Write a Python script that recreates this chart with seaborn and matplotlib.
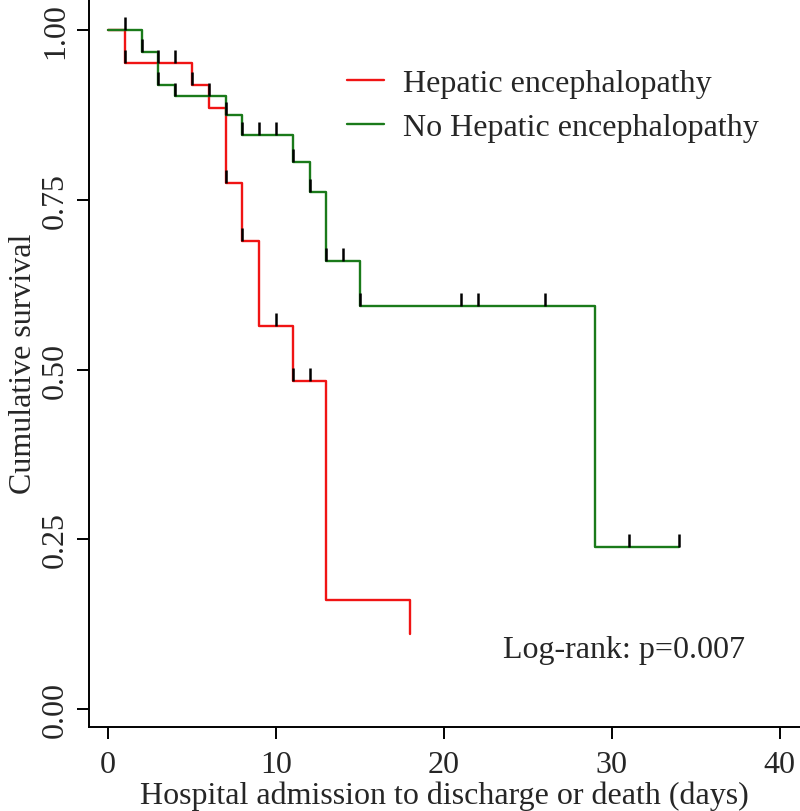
import matplotlib
matplotlib.use("Agg")
import matplotlib.pyplot as plt
from matplotlib.path import Path
import numpy as np
import pandas as pd
import seaborn as sns

# --- data (Kaplan-Meier steps) ---
he_times = [0, 1, 5, 6, 7, 8, 9, 11, 13, 18]
he_surv = [1.0, 0.952, 0.919, 0.885, 0.775, 0.690, 0.564, 0.483, 0.161, 0.110]
he_censor = [1, 3, 4, 5, 7, 8, 10, 11, 12]

no_times = [0, 2, 3, 4, 7, 8, 11, 12, 13, 15, 29]
no_surv = [1.0, 0.968, 0.919, 0.903, 0.875, 0.846, 0.805, 0.761, 0.660, 0.593, 0.238]
no_censor = [1, 2, 3, 4, 6, 7, 8, 9, 10, 11, 12, 13, 14, 15, 21, 22, 26, 31, 34]

groups = ["Hepatic encephalopathy", "No Hepatic encephalopathy"]
colors = ["#f01414", "#1a7a1a"]


def step_value(times, surv, t):
    i = np.searchsorted(times, t, side="right") - 1
    return surv[i]


curve_rows = []
cens_rows = []
for name, times, surv, cens in [(groups[0], he_times, he_surv, he_censor),
                                (groups[1], no_times, no_surv, no_censor)]:
    for t, s in zip(times, surv):
        curve_rows.append((name, t, s))
    # follow-up continues flat until the last censored time
    if max(cens) > max(times):
        curve_rows.append((name, max(cens), surv[-1]))
    for t in cens:
        cens_rows.append((name, t, step_value(times, surv, t)))

curves = pd.DataFrame(curve_rows, columns=["group", "time", "surv"])
censored = pd.DataFrame(cens_rows, columns=["group", "time", "surv"])

# --- style ---
sns.set_style("ticks")
plt.rcParams["font.family"] = ["Liberation Serif", "DejaVu Serif"]
plt.rcParams["font.size"] = 23

fig = plt.figure(figsize=(8.0, 8.12), dpi=100)
ax = fig.add_axes([89 / 800, 1 - 728 / 812, 1 - 89 / 800, 728 / 812])

sns.lineplot(data=curves, x="time", y="surv", hue="group", hue_order=groups,
             palette=colors, drawstyle="steps-post", estimator=None, sort=False,
             linewidth=1.7, ax=ax)

tick_marker = Path([(0, 0), (0, 1)])
sns.scatterplot(data=censored, x="time", y="surv", marker=tick_marker, s=330,
                color="black", edgecolor="black", linewidth=1.8, legend=False,
                zorder=5, ax=ax)

ax.set_xlim(-1.13, 41.2)
ax.set_ylim(-0.0265, 1.0457)
ax.set_xticks([0, 10, 20, 30, 40])
ax.set_yticks([0, 0.25, 0.5, 0.75, 1.0])
ax.set_yticklabels(["0.00", "0.25", "0.50", "0.75", "1.00"], rotation=90, va="center")
ax.tick_params(axis="both", length=8.5, width=1.4, labelsize=23, color="black")
ax.tick_params(axis="y", pad=5)
ax.tick_params(axis="x", pad=8)
for side in ["left", "bottom"]:
    ax.spines[side].set_linewidth(1.4)
    ax.spines[side].set_color("black")
sns.despine(ax=ax)

ax.set_xlabel("Hospital admission to discharge or death (days)", fontsize=23, labelpad=1)
ax.set_ylabel("Cumulative survival", fontsize=23, labelpad=2)

old = ax.get_legend()
handles = old.legend_handles
labels = [t.get_text() for t in old.get_texts()]
old.remove()
ax.legend(handles, labels, loc="upper left", bbox_to_anchor=(347 / 800, 1 - 70 / 812),
          bbox_transform=fig.transFigure, frameon=False, fontsize=23,
          handlelength=1.15, handletextpad=0.6, labelspacing=0.45,
          borderpad=0, borderaxespad=0)

ax.text(23.5, 0.087, "Log-rank: p=0.007", fontsize=23, va="center", ha="left")

fig.savefig("out.png", dpi=100)
